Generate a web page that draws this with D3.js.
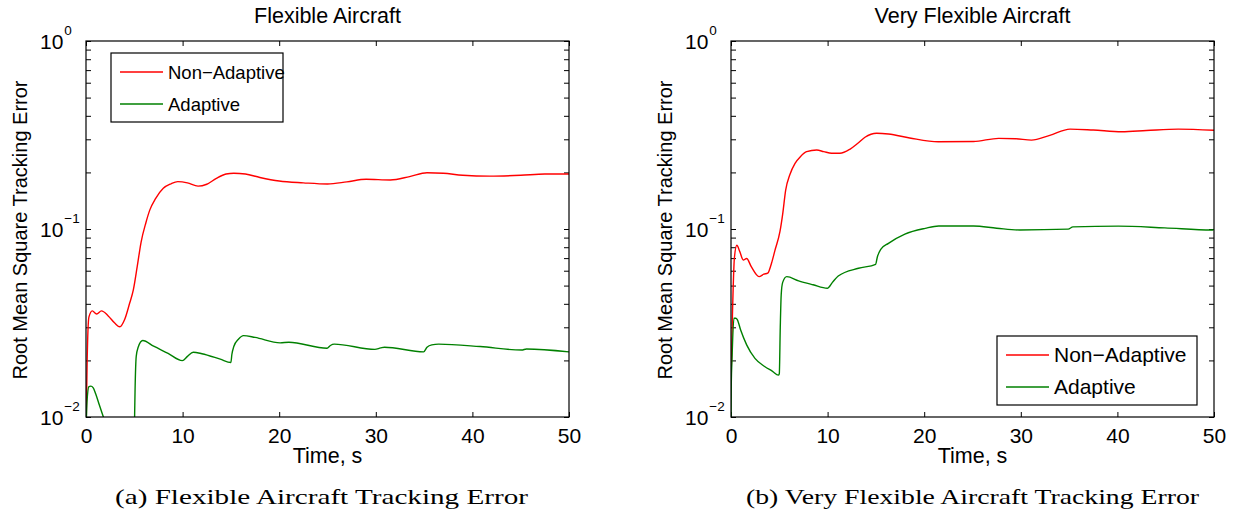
<!DOCTYPE html>
<html>
<head>
<meta charset="utf-8">
<script src="https://cdn.jsdelivr.net/npm/d3@7"></script>
<style>
  body { margin: 0; background: #fff; }
  text { font-family: "Liberation Sans", Arial, Helvetica, sans-serif; fill: #000; }
</style>
</head>
<body>
<svg width="1236" height="515"></svg>
<script>
// DATA
const xTicks = [0, 10, 20, 30, 40, 50];
const yMajor = [1e-2, 1e-1, 1];
const seriesNames = ["Non\u2212Adaptive", "Adaptive"];

// (a) Flexible aircraft
const flexNonAdaptiveT = [0, 0.12, 0.3, 0.65, 1.1, 1.6, 2.3, 3.0, 3.5, 4.0, 4.5, 4.9, 5.3, 5.7, 6.2, 6.6, 7.2, 8.0, 8.8, 9.5, 10.5, 11.6, 12.5, 13.5, 14.5, 15.3, 16.5, 18, 20, 22.5, 25, 27, 29, 31.5, 33.5, 35.3, 37, 39, 41.8, 45, 47.5, 50];
const flexNonAdaptiveV = [0.008, 0.02, 0.034, 0.0367, 0.0353, 0.0367, 0.0345, 0.0315, 0.0302, 0.033, 0.040, 0.0474, 0.063, 0.085, 0.108, 0.126, 0.145, 0.1646, 0.174, 0.1786, 0.176, 0.169, 0.173, 0.186, 0.196, 0.198, 0.196, 0.188, 0.180, 0.176, 0.1735, 0.178, 0.1838, 0.1823, 0.19, 0.1993, 0.198, 0.193, 0.191, 0.193, 0.196, 0.196];
const flexAdaptiveT = [0, 0.1, 0.3, 0.5, 0.75, 1.0, 1.4, 1.8, 2.3, 3.5, 4.95, 5.0, 5.08, 5.2, 5.4, 5.87, 7, 8.5, 9.97, 10.5, 11.1, 12, 13.9, 15.0, 15.1, 15.3, 15.8, 16.3, 17.5, 20.1, 21, 24.95, 25.3, 25.7, 29.9, 30.5, 30.9, 34.95, 35.3, 35.8, 36.5, 40.8, 45.1, 45.6, 50];
const flexAdaptiveV = [0.008, 0.012, 0.0145, 0.0146, 0.0143, 0.0133, 0.0115, 0.0100, 0.0085, 0.007, 0.006, 0.008, 0.014, 0.021, 0.0235, 0.0255, 0.0238, 0.0218, 0.01995, 0.021, 0.0221, 0.0217, 0.0203, 0.0195, 0.0215, 0.0237, 0.026, 0.0271, 0.0265, 0.0248, 0.025, 0.0232, 0.024, 0.0244, 0.0229, 0.0233, 0.0235, 0.0222, 0.0235, 0.0242, 0.0244, 0.0237, 0.0227, 0.023, 0.0222];

// (b) Very flexible aircraft
const veryNonAdaptiveT = [0, 0.15, 0.35, 0.6, 0.9, 1.27, 1.62, 2.1, 2.9, 3.4, 3.8, 4.2, 4.55, 5.07, 5.35, 5.66, 6.1, 6.63, 7.2, 7.83, 8.87, 9.6, 10.42, 11.28, 12.3, 13.1, 13.87, 15.08, 16.3, 18.5, 21.46, 25.1, 27.7, 29.5, 31.1, 33, 35.1, 37.5, 40.45, 43, 46.3, 50];
const veryNonAdaptiveV = [0.0155, 0.035, 0.07, 0.0819, 0.076, 0.0684, 0.0697, 0.063, 0.0558, 0.0575, 0.0582, 0.066, 0.077, 0.097, 0.12, 0.161, 0.195, 0.2235, 0.243, 0.2578, 0.263, 0.258, 0.2527, 0.2527, 0.2654, 0.285, 0.3076, 0.3228, 0.32, 0.305, 0.2913, 0.292, 0.3035, 0.302, 0.297, 0.315, 0.340, 0.336, 0.329, 0.334, 0.340, 0.335];
const veryAdaptiveT = [0, 0.03, 0.1, 0.3, 0.5, 0.65, 1.0, 1.62, 2.48, 3.52, 4.3, 4.9, 5.0, 5.1, 5.2, 5.35, 5.77, 7, 8.5, 9.97, 10.5, 11.1, 13.2, 14.97, 15.15, 15.5, 16.3, 18.0, 20.1, 21.5, 25.1, 27.5, 29.9, 34.9, 35.4, 40.1, 44.9, 49.75, 50];
const veryAdaptiveV = [0.0098, 0.0152, 0.02, 0.0335, 0.0335, 0.033, 0.029, 0.0242, 0.0205, 0.0185, 0.0175, 0.0167, 0.017, 0.03, 0.045, 0.052, 0.0558, 0.053, 0.0505, 0.0484, 0.052, 0.0562, 0.0618, 0.0649, 0.071, 0.078, 0.0839, 0.094, 0.1008, 0.1037, 0.1037, 0.101, 0.0988, 0.0998, 0.1026, 0.1036, 0.1014, 0.0988, 0.0995];

const zipSeries = (t, v) => t.map((d, i) => ({ t: d, v: v[i] }));

// CONSTANTS
const svg = d3.select("svg");
const colors = ["#ff0000", "#008000"];
const plotTop = 41, plotW = 483, plotH = 376;
const tickFont = 21, labelFont = 21.5;

const panels = [
  {
    left: 86,
    title: "Flexible Aircraft",
    caption: "(a) Flexible Aircraft Tracking Error",
    captionWidth: 413,
    series: [zipSeries(flexNonAdaptiveT, flexNonAdaptiveV), zipSeries(flexAdaptiveT, flexAdaptiveV)],
    legend: { x: 111, y: 53, w: 172, h: 69, font: 18.5 }
  },
  {
    left: 731,
    title: "Very Flexible Aircraft",
    caption: "(b) Very Flexible Aircraft Tracking Error",
    captionWidth: 453,
    series: [zipSeries(veryNonAdaptiveT, veryNonAdaptiveV), zipSeries(veryAdaptiveT, veryAdaptiveV)],
    legend: { x: 997, y: 336, w: 200, h: 69, font: 21 }
  }
];

// SCALES
const xScale = d3.scaleLinear().domain([0, 50]).range([0, plotW]);
const yScale = d3.scaleLog().domain([1e-2, 1]).range([plotH, 0]);

// minor ticks 1..9 x 10^k
const yTickValues = [];
[1e-2, 1e-1].forEach(p => d3.range(1, 10).forEach(m => yTickValues.push(m * p)));
yTickValues.push(1);

const line = d3.line()
  .x(d => xScale(d.t))
  .y(d => yScale(d.v))
  .curve(d3.curveMonotoneX);

panels.forEach((p, idx) => {
  const g = svg.append("g").attr("transform", `translate(${p.left},${plotTop})`);

  // clip for lines
  const clipId = "clip" + idx;
  svg.append("defs").append("clipPath").attr("id", clipId)
    .append("rect").attr("width", plotW).attr("height", plotH);

  // axes, ticks pointing inward on all four sides
  const styleAxis = a => {
    a.select(".domain").remove();
    a.selectAll(".tick line").attr("stroke", "#000").attr("stroke-width", 1);
  };
  g.append("g").attr("transform", `translate(0,${plotH})`)
    .call(d3.axisBottom(xScale).tickValues(xTicks).tickSize(-5).tickPadding(11))
    .call(styleAxis)
    .selectAll("text").attr("font-size", tickFont).attr("font-family", null);
  g.append("g")
    .call(d3.axisTop(xScale).tickValues(xTicks).tickSize(-5).tickFormat(""))
    .call(styleAxis);
  g.append("g")
    .call(d3.axisLeft(yScale).tickValues(yTickValues).tickSize(-5).tickFormat(""))
    .call(styleAxis);
  g.append("g").attr("transform", `translate(${plotW},0)`)
    .call(d3.axisRight(yScale).tickValues(yTickValues).tickSize(-5).tickFormat(""))
    .call(styleAxis);

  // y major labels 10^k
  const yl = g.selectAll(".ylab").data(yMajor).enter().append("text")
    .attr("class", "ylab")
    .attr("x", -46)
    .attr("y", d => yScale(d) + 8)
    .attr("font-size", tickFont);
  yl.append("tspan").text("10");
  yl.append("tspan")
    .attr("font-size", 13.5)
    .attr("dx", 1)
    .attr("dy", -14)
    .text(d => { const e = Math.round(Math.log10(d)); return e < 0 ? "\u2212" + (-e) : String(e); });

  // lines
  const lg = g.append("g").attr("clip-path", `url(#${clipId})`);
  p.series.forEach((s, i) => {
    lg.append("path").datum(s)
      .attr("fill", "none")
      .attr("stroke", colors[i])
      .attr("stroke-width", 1.4)
      .attr("d", line);
  });

  // box
  g.append("rect").attr("width", plotW).attr("height", plotH)
    .attr("fill", "none").attr("stroke", "#000").attr("stroke-width", 1.2);

  // title and labels
  g.append("text").attr("x", plotW / 2).attr("y", -18)
    .attr("text-anchor", "middle").attr("font-size", labelFont).text(p.title);
  g.append("text").attr("x", plotW / 2).attr("y", plotH + 46)
    .attr("text-anchor", "middle").attr("font-size", labelFont).text("Time, s");
  g.append("text")
    .attr("transform", `translate(-59,${plotH / 2 + 1}) rotate(-90)`)
    .attr("text-anchor", "middle").attr("font-size", 20)
    .text("Root Mean Square Tracking Error");

  // caption
  svg.append("text")
    .attr("x", p.left + plotW / 2 - (idx === 0 ? 6 : 0))
    .attr("y", 504)
    .attr("text-anchor", "middle")
    .style("font-family", "'Liberation Serif', 'DejaVu Serif', serif")
    .attr("font-size", 22)
    .attr("textLength", p.captionWidth)
    .attr("lengthAdjust", "spacingAndGlyphs")
    .text(p.caption);

  // legend
  const L = p.legend;
  const leg = svg.append("g").attr("transform", `translate(${L.x},${L.y})`);
  leg.append("rect").attr("width", L.w).attr("height", L.h)
    .attr("fill", "#fff").attr("stroke", "#000").attr("stroke-width", 1.2);
  seriesNames.forEach((name, i) => {
    const yy = 19 + i * 32;
    leg.append("line").attr("x1", 9).attr("x2", 52).attr("y1", yy).attr("y2", yy)
      .attr("stroke", colors[i]).attr("stroke-width", 1.4);
    leg.append("text").attr("x", 57).attr("y", yy + 7)
      .attr("font-size", L.font).text(name);
  });
});
</script>
</body>
</html>
